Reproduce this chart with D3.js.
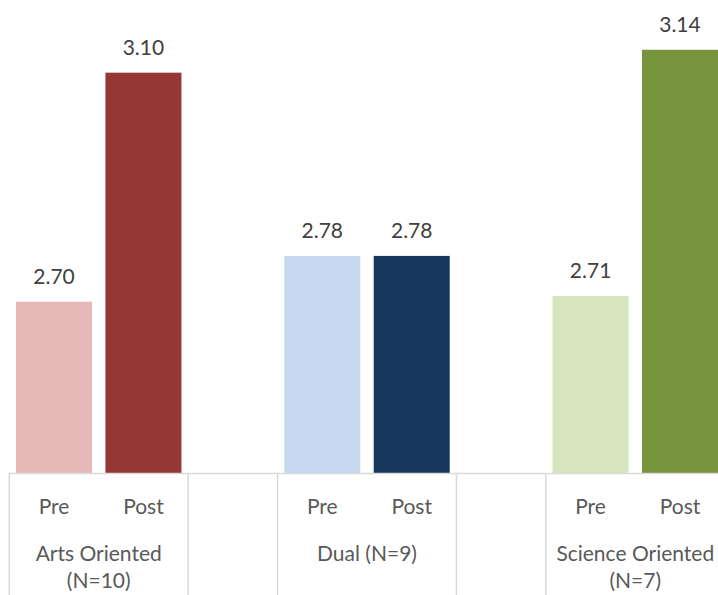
<!DOCTYPE html>
<html>
<head>
<meta charset="utf-8">
<script src="https://cdn.jsdelivr.net/npm/d3@7/dist/d3.min.js"></script>
<style>
  html, body { margin: 0; padding: 0; background: #ffffff; }
  svg { display: block; font-family: Lato, "Open Sans", sans-serif; }
</style>
</head>
<body>
<svg id="chart" width="718" height="595"></svg>
<script>
// Group names, split into the lines shown under the axis
const groupNames = ["Arts Oriented (N=10)", "Dual (N=9)", "Science Oriented (N=7)"];
const groupLines = [["Arts Oriented", "(N=10)"], ["Dual (N=9)"], ["Science Oriented", "(N=7)"]];
const phases = ["Pre", "Post"];

// Mean scores per group
const preValues  = [2.70, 2.78, 2.71];
const postValues = [3.10, 2.78, 3.14];

// Fill per group: light shade for Pre, dark shade for Post
const preColors  = ["#e6b9b8", "#c6d9f1", "#d7e4bd"];
const postColors = ["#953735", "#17375e", "#77933c"];

const yDomain = [2.4, 3.2];

const svg = d3.select("#chart");
const W = 718, H = 595;
const plot = { left: 9.3, right: 724.7, top: 15.4, bottom: 473.5 };
const fontSize = 21;

// Category slots: each group has Pre and Post, with an empty slot between groups
const slots = [];
groupNames.forEach((g, gi) => {
  phases.forEach((p, pi) => {
    slots.push({
      key: g + "|" + p, group: gi, phase: p,
      value: pi === 0 ? preValues[gi] : postValues[gi],
      color: pi === 0 ? preColors[gi] : postColors[gi]
    });
  });
  if (gi < groupNames.length - 1) slots.push({ key: "gap" + gi, group: null });
});

const gapRatio = 0.15;
const x = d3.scaleBand()
  .domain(slots.map(d => d.key))
  .range([plot.left, plot.right])
  .paddingInner(gapRatio)
  .paddingOuter(gapRatio / 2);
const step = x.step();
const slotStart = k => x(k) - step * gapRatio / 2;

const y = d3.scaleLinear().domain(yDomain).range([plot.bottom, plot.top]);

const bars = slots.filter(d => d.group !== null);

// Bars
svg.append("g")
  .selectAll("rect")
  .data(bars)
  .join("rect")
  .attr("x", d => x(d.key))
  .attr("width", x.bandwidth())
  .attr("y", d => y(d.value))
  .attr("height", d => y(yDomain[0]) - y(d.value))
  .attr("fill", d => d.color);

// Value labels
svg.append("g")
  .selectAll("text")
  .data(bars)
  .join("text")
  .attr("x", d => x(d.key) + x.bandwidth() / 2)
  .attr("y", d => y(d.value) - 18)
  .attr("text-anchor", "middle")
  .attr("font-size", fontSize)
  .attr("fill", "#404040")
  .text(d => d.value.toFixed(2));

// Category axis: baseline and group separators
const axis = svg.append("g").attr("stroke", "#d9d9d9").attr("stroke-width", 1.5);
axis.append("line")
  .attr("x1", plot.left).attr("x2", W)
  .attr("y1", plot.bottom).attr("y2", plot.bottom);

const boundaries = [];
let i = 0;
while (i < slots.length) {
  boundaries.push(slotStart(slots[i].key));
  if (slots[i].group !== null) i += phases.length; else i += 1;
}
boundaries.push(plot.right);
axis.selectAll("line.sep")
  .data(boundaries)
  .join("line")
  .attr("class", "sep")
  .attr("x1", d => d).attr("x2", d => d)
  .attr("y1", plot.bottom).attr("y2", H);

// Phase labels under each bar
svg.append("g")
  .selectAll("text")
  .data(bars)
  .join("text")
  .attr("x", d => x(d.key) + x.bandwidth() / 2)
  .attr("y", 514)
  .attr("text-anchor", "middle")
  .attr("font-size", fontSize)
  .attr("fill", "#595959")
  .text(d => d.phase);

// Group labels centred under each pair
function g2key(g, pi) { return g + "|" + phases[pi]; }
const groupLabel = svg.append("g")
  .selectAll("text")
  .data(groupNames.map((g, gi) => ({ g, gi })))
  .join("text")
  .attr("text-anchor", "middle")
  .attr("font-size", fontSize)
  .attr("fill", "#595959")
  .attr("transform", d => {
    const s = slotStart(g2key(d.g, 0));
    return `translate(${s + step},560.5)`;
  });
groupLabel.selectAll("tspan")
  .data(d => groupLines[d.gi])
  .join("tspan")
  .attr("x", 0)
  .attr("dy", (d, k) => k === 0 ? 0 : 27.5)
  .text(d => d);
</script>
</body>
</html>
